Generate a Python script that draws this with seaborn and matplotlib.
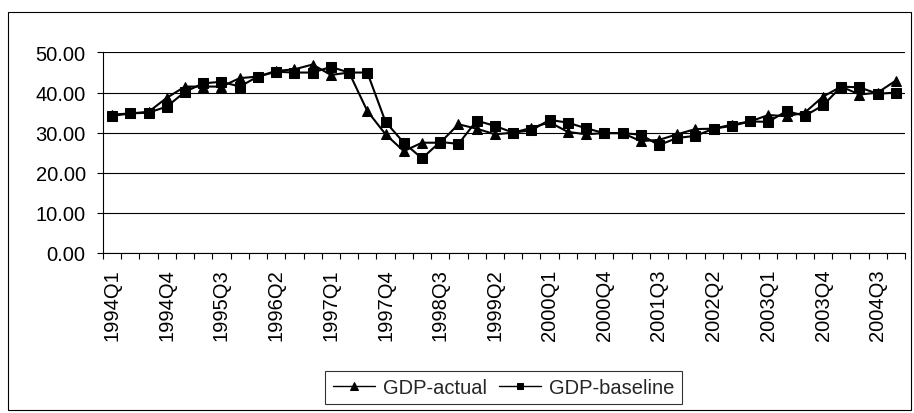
import matplotlib
matplotlib.use('Agg')
import matplotlib.pyplot as plt
from matplotlib.patches import Rectangle
from matplotlib.ticker import MultipleLocator, FixedLocator
import seaborn as sns
import pandas as pd

# quarterly GDP
quarters = [f'{y}Q{q}' for y in range(1994, 2005) for q in range(1, 5)]
gdp_actual = [34.5, 34.8, 35.2, 38.7, 41.5, 41.5, 41.5, 43.6, 44.0, 45.4,
              45.8, 47.0, 44.4, 45.0, 35.4, 29.6, 25.4, 27.5, 27.5, 32.1,
              31.0, 29.6, 30.0, 31.2, 32.6, 30.2, 29.6, 29.9, 29.9, 27.9,
              28.2, 29.6, 30.9, 31.0, 32.0, 32.8, 34.4, 34.1, 35.0, 39.0,
              41.5, 39.5, 40.0, 43.0]
gdp_baseline = [34.2, 34.8, 35.0, 36.5, 40.2, 42.3, 42.7, 41.5, 44.0, 45.2,
                45.0, 45.0, 46.4, 45.0, 45.0, 32.7, 27.5, 23.6, 27.7, 27.2,
                33.0, 31.7, 30.0, 30.6, 33.2, 32.5, 31.1, 29.9, 29.9, 29.5,
                26.9, 28.7, 29.2, 31.0, 31.7, 32.8, 32.7, 35.4, 34.2, 36.8,
                41.5, 41.3, 39.7, 40.0]

df = pd.DataFrame({'quarter': quarters, 'GDP-actual': gdp_actual,
                   'GDP-baseline': gdp_baseline})
df['pos'] = range(len(df))

sns.set_theme(style='white')
plt.rcParams['font.family'] = ['Liberation Sans', 'DejaVu Sans']

fig = plt.figure(figsize=(9.14, 4.14), dpi=100)
ax = fig.add_axes([0.1127, 0.3865, 0.8775, 0.4843])

# chart area border
fig.patches.append(Rectangle((0.0088, 0.0072), 0.988, 0.961, transform=fig.transFigure,
                             fill=False, edgecolor='black', linewidth=0.8))

sns.lineplot(data=df, x='pos', y='GDP-actual', ax=ax, color='black', linewidth=1.5,
             marker='^', markersize=7.5, markeredgecolor='black', label='GDP-actual')
sns.lineplot(data=df, x='pos', y='GDP-baseline', ax=ax, color='black', linewidth=1.5,
             marker='s', markersize=6.5, markeredgecolor='black', label='GDP-baseline')

ax.set_xlim(-0.5, len(df) - 0.5)
ax.set_ylim(0, 50)
ax.yaxis.set_major_locator(MultipleLocator(10))
ax.set_yticklabels([f'{v:.2f}' for v in ax.get_yticks()])
ax.set_xticks(df['pos'][::3])
ax.set_xticklabels(df['quarter'][::3], rotation=90)
ax.xaxis.set_minor_locator(FixedLocator([p - 0.5 for p in range(len(df) + 1)]))
ax.set_xlabel('')
ax.set_ylabel('')

ax.grid(axis='y', color='black', linewidth=0.8)
ax.set_axisbelow(True)
for s in ['top', 'right']:
    ax.spines[s].set_visible(False)
for s in ['left', 'bottom']:
    ax.spines[s].set_color('black')
    ax.spines[s].set_linewidth(0.8)

ax.tick_params(axis='y', which='major', left=True, length=4.5, width=0.8,
               color='black', pad=8, labelsize=14.5, labelcolor='black')
ax.tick_params(axis='x', which='major', bottom=True, length=0, pad=11,
               labelsize=14.5, labelcolor='black')
ax.tick_params(axis='x', which='minor', bottom=True, length=4.5, width=0.8, color='black')

ax.legend().remove()
h, l = ax.get_legend_handles_labels()
leg = fig.legend(h, l, ncol=2, loc='center', bbox_to_anchor=(0.551, 0.062),
                 fontsize=14.5, frameon=True, fancybox=False, edgecolor='black',
                 handlelength=2.1, handletextpad=0.4, columnspacing=0.6,
                 borderpad=0.35, markerscale=0.7)
leg.get_frame().set_linewidth(0.8)
for line in leg.get_lines():
    line.set_linewidth(1.0)

fig.savefig('out.png', dpi=100)
